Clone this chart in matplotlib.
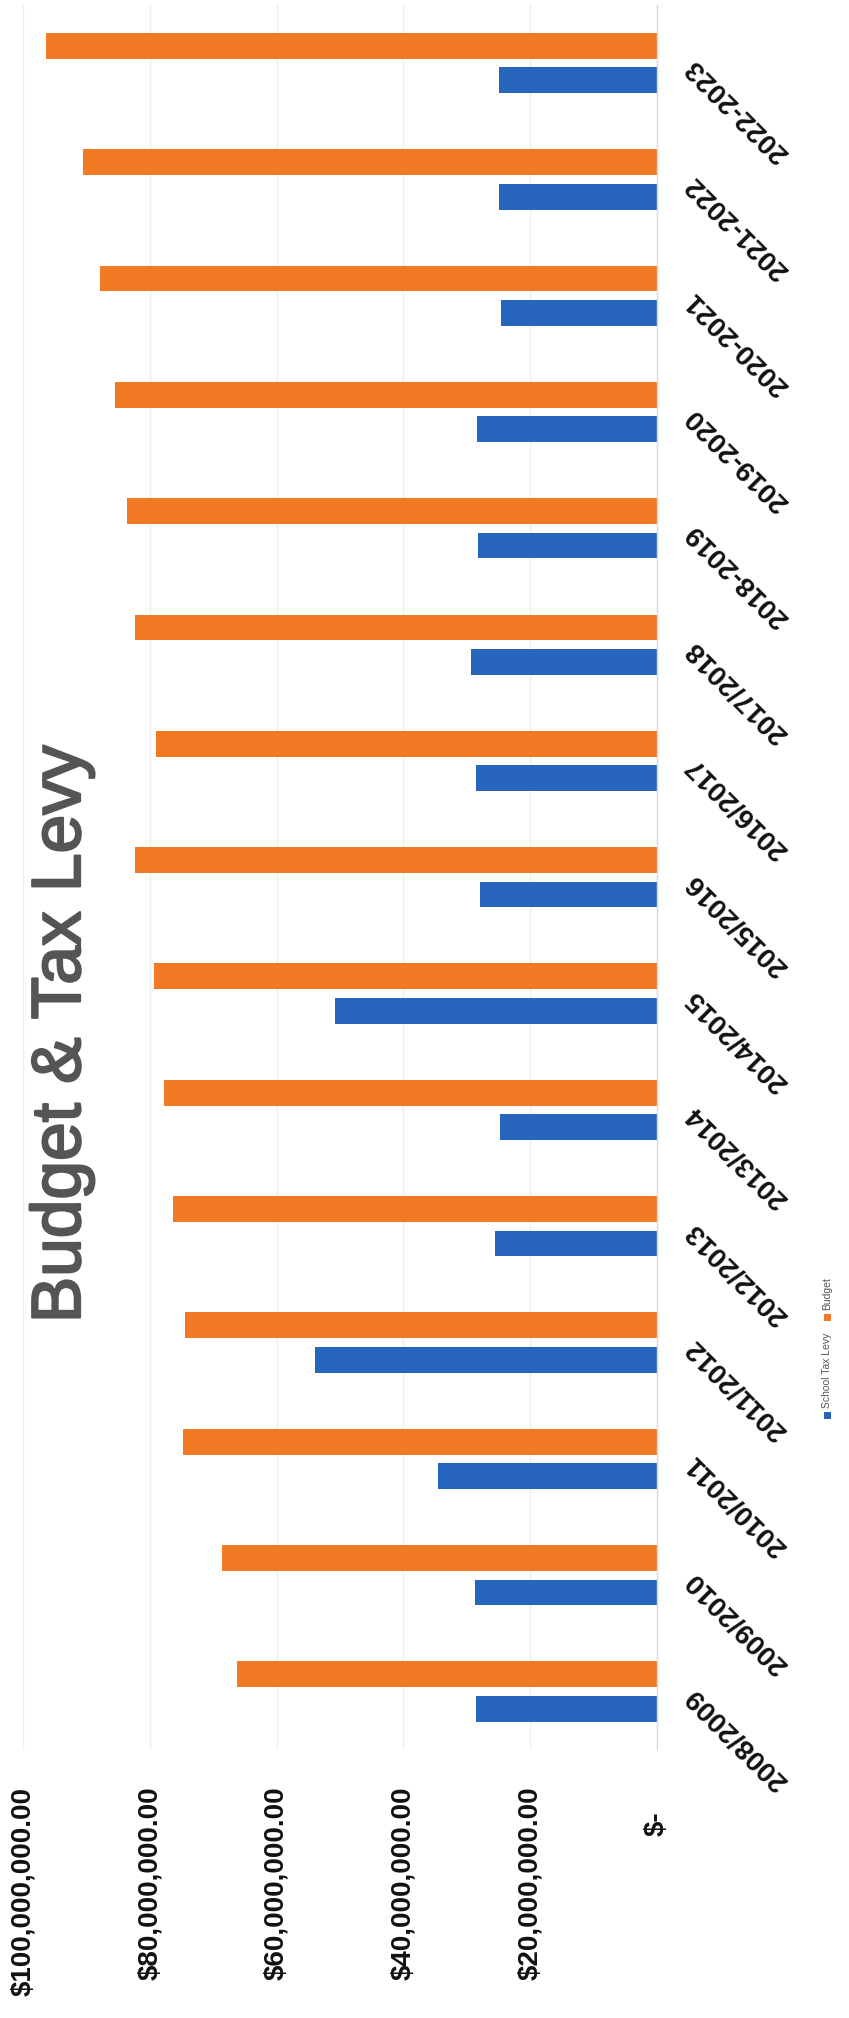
import matplotlib
matplotlib.use("Agg")
import matplotlib.pyplot as plt
import matplotlib.transforms as mtransforms
import matplotlib.patheffects as pe
from matplotlib.patches import Rectangle
from matplotlib.ticker import FuncFormatter
import numpy as np

# School years, oldest first (drawn bottom to top)
years = ["2008/2009", "2009/2010", "2010/2011", "2011/2012", "2012/2013",
         "2013/2014", "2014/2015", "2015/2016", "2016/2017", "2017/2018",
         "2018-2019", "2019-2020", "2020-2021", "2021-2022", "2022-2023"]

# Amounts in millions of dollars
budget_musd = [66.3, 68.6, 74.7, 74.5, 76.3, 77.8, 79.4, 82.4, 79.0, 82.4,
               83.6, 85.5, 87.9, 90.5, 96.4]
levy_musd = [28.6, 28.7, 34.5, 53.9, 25.5, 24.8, 50.8, 27.9, 28.6, 29.3,
             28.2, 28.4, 24.6, 24.9, 24.9]

value_ticks = [0, 20e6, 40e6, 60e6, 80e6, 100e6]

ORANGE = "#F27A24"
BLUE = "#2866BE"
TEXT_GREY = "#555555"

plt.rcParams["font.family"] = ["Liberation Sans", "DejaVu Sans"]

W, H, DPI = 849, 2018, 100
fig = plt.figure(figsize=(W / DPI, H / DPI), dpi=DPI)
fig.patch.set_facecolor("white")

# value axis runs right-to-left, categories stacked vertically
ax = fig.add_axes([23 / W, 1 - 1749.7 / H, 634 / W, 1744.8 / H])

y = np.arange(len(years))
offset = 0.148
bar_h = 0.222
ax.barh(y + offset, np.array(budget_musd) * 1e6, height=bar_h,
        color=ORANGE, label="Budget", zorder=2)
ax.barh(y - offset, np.array(levy_musd) * 1e6, height=bar_h,
        color=BLUE, label="School Tax Levy", zorder=2)

ax.set_xlim(100e6, 0)
ax.set_ylim(-0.5, len(years) - 0.5)

for side in ("left", "top", "bottom"):
    ax.spines[side].set_visible(False)
ax.spines["right"].set_color("#d9d9d9")
ax.spines["right"].set_linewidth(1.0)

ax.grid(axis="x", color="#eeeeee", linewidth=0.9, zorder=0)
ax.set_axisbelow(True)


def money(v, _pos):
    if abs(v) < 1:
        return "$-"
    return f"${v:,.2f}"


ax.set_xticks(value_ticks)
ax.xaxis.set_major_formatter(FuncFormatter(money))
ax.tick_params(axis="x", length=0, pad=26.6, labelsize=20, labelrotation=90)
for lbl in ax.get_xticklabels():
    lbl.set_fontweight("bold")
    lbl.set_color("#111111")

ax.yaxis.tick_right()
ax.set_yticks(y, years)
ax.tick_params(axis="y", length=0, pad=23.8, labelsize=20)
for lbl in ax.get_yticklabels():
    lbl.set_rotation(135)
    lbl.set_rotation_mode("anchor")
    lbl.set_ha("right")
    lbl.set_va("center")
    lbl.set_fontweight("bold")
    lbl.set_color("#111111")

# the zero label sits lower, as in accounting number format
fig.canvas.draw()
zero_tick = ax.xaxis.get_major_ticks()[0]
zero_tick.label1.set_transform(
    zero_tick.label1.get_transform()
    + mtransforms.ScaledTranslation(0, -25 / DPI, fig.dpi_scale_trans))

# title
fig.text(62 / W, 1 - 1034 / H, "Budget & Tax Levy", rotation=90,
         ha="center", va="center", fontsize=50, color=TEXT_GREY,
         path_effects=[pe.Stroke(linewidth=1.6, foreground=TEXT_GREY),
                       pe.Normal()])

# legend, rotated with the chart
sq = 7
lx = 827
for ypix, color, name in [(1415, BLUE, "School Tax Levy"),
                          (1317, ORANGE, "Budget")]:
    fig.patches.append(Rectangle(((lx - sq / 2) / W, 1 - (ypix + sq / 2) / H),
                                 sq / W, sq / H, transform=fig.transFigure,
                                 facecolor=color, edgecolor="none"))
    fig.text(lx / W, 1 - (ypix - sq / 2 - 3) / H, name, rotation=90,
             ha="center", va="bottom", fontsize=7.5, color=TEXT_GREY)

fig.savefig("out.png", dpi=DPI, facecolor="white")
